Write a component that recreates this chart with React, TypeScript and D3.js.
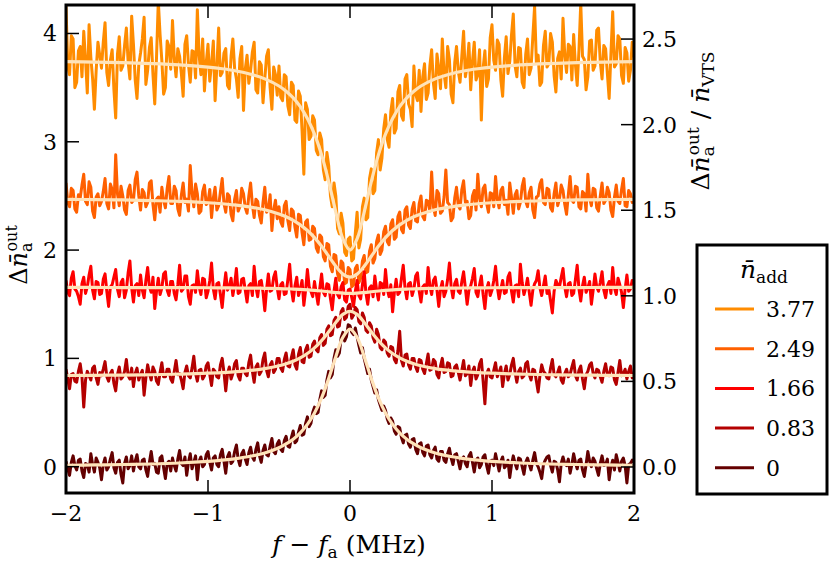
import React from 'react';
import * as d3 from 'd3';

// legend values (n_add) and line colours, top curve first
const nAdd = ['3.77', '2.49', '1.66', '0.83', '0'];
const colors = ['#ff8c00', '#ff6000', '#ff0000', '#b40000', '#640000'];
const fitColor = '#ffe3b9';

// measured frequency grid (MHz), 0.0125 MHz steps, 20 samples per row below
const freq = d3.range(321).map(i => -2 + i * 0.0125);

const fitFreq = [
  -2, -1.8, -1.6, -1.4, -1.2, -1, -0.9, -0.8, -0.7, -0.6, -0.5, -0.45, -0.4, -0.35, -0.3, -0.25, -0.2, -0.15, -0.1, -0.05,
  0, 0.05, 0.1, 0.15, 0.2, 0.25, 0.3, 0.35, 0.4, 0.45, 0.5, 0.6, 0.7, 0.8, 0.9, 1, 1.2, 1.4, 1.6, 1.8, 2,
];

const data377 = [
  4.25, 3.70, 3.62, 3.98, 3.95, 3.50, 3.55, 3.84, 3.88, 3.60, 4.02, 3.76, 3.45, 4.08, 3.78, 3.58, 3.30, 3.66, 3.92, 3.80,
  3.68, 3.92, 4.10, 3.64, 3.52, 3.75, 3.85, 3.48, 3.22, 3.81, 3.97, 3.66, 3.70, 3.89, 4.05, 3.74, 3.58, 4.16, 3.90, 3.57,
  3.40, 3.71, 3.82, 3.95, 4.15, 3.53, 3.66, 3.87, 3.96, 3.62, 3.35, 3.78, 4.30, 3.99, 3.75, 3.44, 3.50, 3.93, 3.88, 3.67,
  4.12, 3.77, 3.60, 3.86, 3.79, 3.63, 3.42, 3.90, 3.98, 3.71, 3.55, 3.84, 3.83, 3.59, 4.22, 3.80, 3.62, 3.95, 3.47, 3.73,
  3.90, 3.56, 3.72, 3.93, 3.38, 3.70, 4.05, 3.61, 3.64, 3.82, 3.86, 3.52, 3.49, 3.79, 3.95, 3.68, 3.58, 3.41, 3.77, 3.88,
  3.29, 3.67, 3.80, 3.54, 3.66, 3.83, 3.92, 3.48, 3.45, 3.74, 3.71, 3.36, 3.58, 3.79, 3.85, 3.50, 3.30, 3.69, 3.62, 3.43,
  3.70, 3.41, 3.38, 3.62, 3.60, 3.33, 3.25, 3.55, 3.52, 3.20, 3.18, 3.47, 3.42, 3.10, 2.70, 3.36, 3.30, 3.02, 3.05, 3.24,
  3.20, 2.92, 2.88, 3.08, 3.02, 2.74, 2.65, 2.90, 2.78, 2.50, 2.40, 2.62, 2.50, 2.20, 2.15, 2.34, 2.25, 1.98, 1.95, 2.10,
  2.12, 1.90, 1.92, 2.16, 2.35, 2.02, 2.10, 2.40, 2.48, 2.28, 2.30, 2.66, 2.75, 2.52, 2.55, 2.90, 3.02, 2.74, 2.85, 3.12,
  3.25, 3.02, 2.95, 3.28, 3.40, 3.08, 3.12, 3.46, 3.52, 3.24, 3.20, 3.58, 3.62, 3.35, 3.30, 3.14, 3.70, 3.44, 3.38, 3.66,
  3.28, 3.60, 3.72, 3.39, 3.45, 3.70, 3.85, 3.54, 3.40, 3.81, 3.68, 3.49, 3.95, 3.63, 3.50, 3.88, 3.76, 3.44, 3.36, 3.73,
  3.88, 3.65, 3.55, 3.79, 4.02, 3.60, 3.70, 3.91, 3.48, 3.74, 3.92, 3.57, 3.62, 3.85, 3.20, 3.68, 3.84, 3.51, 3.58, 3.96,
  4.08, 3.75, 3.66, 3.94, 3.90, 3.57, 3.42, 3.78, 3.97, 3.63, 3.74, 3.99, 4.18, 3.70, 3.60, 3.87, 3.86, 3.55, 3.50, 3.81,
  3.95, 3.62, 3.68, 3.97, 4.25, 3.73, 3.80, 3.52, 3.55, 3.89, 4.02, 3.69, 3.72, 4.00, 3.92, 3.61, 3.46, 3.77, 3.83, 3.58,
  4.14, 3.80, 3.64, 3.90, 3.88, 3.57, 3.99, 3.71, 3.52, 3.85, 4.28, 3.79, 3.76, 3.48, 3.60, 3.93, 3.94, 3.66, 3.70, 4.03,
  4.05, 3.74, 3.58, 3.89, 3.86, 3.63, 3.40, 3.81, 4.20, 3.69, 3.72, 3.98, 3.95, 3.61, 3.54, 3.87, 3.82, 3.56, 3.66, 3.92,
  3.78,
];
const data249 = [
  2.62, 2.44, 2.40, 2.57, 2.55, 2.38, 2.35, 2.51, 2.48, 2.60, 2.70, 2.45, 2.42, 2.63, 2.58, 2.36, 2.30, 2.49, 2.52, 2.41,
  2.45, 2.54, 2.66, 2.43, 2.38, 2.61, 2.56, 2.39, 2.88, 2.52, 2.41, 2.59, 2.50, 2.37, 2.33, 2.55, 2.60, 2.44, 2.46, 2.65,
  2.72, 2.50, 2.37, 2.56, 2.53, 2.40, 2.44, 2.62, 2.64, 2.42, 2.28, 2.47, 2.49, 2.35, 2.58, 2.46, 2.39, 2.57, 2.68, 2.43,
  2.43, 2.59, 2.55, 2.38, 2.32, 2.51, 2.62, 2.44, 2.47, 2.36, 2.78, 2.53, 2.40, 2.61, 2.52, 2.34, 2.36, 2.54, 2.60, 2.42,
  2.44, 2.56, 2.30, 2.48, 2.58, 2.37, 2.41, 2.54, 2.66, 2.43, 2.35, 2.52, 2.50, 2.33, 2.27, 2.47, 2.55, 2.36, 2.40, 2.57,
  2.52, 2.39, 2.34, 2.50, 2.62, 2.42, 2.30, 2.47, 2.45, 2.32, 2.25, 2.44, 2.58, 2.35, 2.38, 2.51, 2.18, 2.37, 2.46, 2.29,
  2.40, 2.26, 2.22, 2.41, 2.45, 2.27, 2.18, 2.38, 2.36, 2.21, 2.12, 2.33, 2.32, 2.16, 2.05, 2.26, 2.28, 2.09, 2.10, 2.22,
  2.20, 2.02, 1.98, 2.14, 2.12, 1.94, 1.90, 2.06, 2.05, 1.85, 1.80, 1.96, 1.95, 1.78, 1.72, 1.90, 1.88, 1.69, 1.70, 1.84,
  1.82, 1.66, 1.68, 1.83, 1.86, 1.70, 1.74, 1.90, 1.95, 1.79, 1.80, 1.99, 2.05, 1.88, 1.92, 2.08, 2.14, 1.96, 2.00, 2.17,
  2.22, 2.08, 2.05, 2.24, 2.28, 2.10, 2.12, 2.31, 2.35, 2.19, 2.16, 2.37, 2.40, 2.23, 2.20, 2.38, 2.44, 2.27, 2.26, 2.43,
  2.50, 2.31, 2.28, 2.46, 2.45, 2.36, 2.72, 2.40, 2.32, 2.55, 2.52, 2.34, 2.36, 2.49, 2.74, 2.44, 2.42, 2.27, 2.30, 2.48,
  2.58, 2.41, 2.38, 2.56, 2.64, 2.44, 2.45, 2.29, 2.32, 2.50, 2.55, 2.37, 2.70, 2.48, 2.40, 2.57, 2.60, 2.43, 2.35, 2.53,
  2.52, 2.40, 2.68, 2.47, 2.39, 2.55, 2.58, 2.42, 2.46, 2.33, 2.62, 2.49, 2.34, 2.51, 2.55, 2.38, 2.44, 2.59, 2.66, 2.45,
  2.40, 2.53, 2.58, 2.37, 2.30, 2.49, 2.50, 2.61, 2.65, 2.44, 2.42, 2.57, 2.56, 2.39, 2.36, 2.52, 2.62, 2.41, 2.47, 2.60,
  2.55, 2.42, 2.33, 2.51, 2.68, 2.46, 2.44, 2.59, 2.58, 2.40, 2.38, 2.54, 2.52, 2.36, 2.70, 2.48, 2.41, 2.57, 2.56, 2.39,
  2.36, 2.50, 2.62, 2.43, 2.46, 2.58, 2.53, 2.37, 2.31, 2.49, 2.60, 2.45, 2.43, 2.56, 2.66, 2.41, 2.40, 2.55, 2.52, 2.44,
  2.48,
];
const data166 = [
  1.72, 1.61, 1.58, 1.74, 1.80, 1.64, 1.62, 1.57, 1.50, 1.69, 1.75, 1.60, 1.66, 1.77, 1.85, 1.63, 1.55, 1.71, 1.70, 1.59,
  1.60, 1.73, 1.78, 1.62, 1.48, 1.66, 1.68, 1.75, 1.82, 1.64, 1.57, 1.70, 1.73, 1.56, 1.63, 1.79, 1.90, 1.65, 1.52, 1.67,
  1.69, 1.58, 1.77, 1.63, 1.56, 1.72, 1.84, 1.66, 1.61, 1.75, 1.46, 1.62, 1.74, 1.59, 1.65, 1.78, 1.80, 1.63, 1.58, 1.71,
  1.71, 1.60, 1.54, 1.68, 1.86, 1.62, 1.64, 1.76, 1.76, 1.57, 1.50, 1.67, 1.68, 1.61, 1.81, 1.66, 1.59, 1.74, 1.73, 1.56,
  1.62, 1.72, 1.88, 1.64, 1.55, 1.69, 1.70, 1.59, 1.47, 1.65, 1.79, 1.63, 1.66, 1.74, 1.58, 1.68, 1.83, 1.60, 1.61, 1.73,
  1.74, 1.63, 1.52, 1.67, 1.69, 1.58, 1.85, 1.66, 1.57, 1.71, 1.72, 1.61, 1.44, 1.64, 1.78, 1.62, 1.63, 1.75, 1.80, 1.65,
  1.55, 1.68, 1.70, 1.59, 1.60, 1.73, 1.87, 1.64, 1.53, 1.67, 1.75, 1.58, 1.64, 1.72, 1.49, 1.63, 1.82, 1.66, 1.62, 1.57,
  1.71, 1.60, 1.50, 1.65, 1.78, 1.61, 1.58, 1.69, 1.68, 1.55, 1.45, 1.62, 1.74, 1.59, 1.56, 1.66, 1.70, 1.54, 1.52, 1.63,
  1.64, 1.56, 1.48, 1.62, 1.72, 1.58, 1.55, 1.68, 1.80, 1.60, 1.50, 1.65, 1.67, 1.57, 1.76, 1.63, 1.54, 1.70, 1.69, 1.59,
  1.82, 1.64, 1.57, 1.68, 1.43, 1.61, 1.73, 1.59, 1.61, 1.74, 1.86, 1.65, 1.55, 1.69, 1.70, 1.58, 1.64, 1.76, 1.79, 1.62,
  1.52, 1.66, 1.68, 1.60, 1.84, 1.67, 1.59, 1.72, 1.75, 1.63, 1.48, 1.64, 1.71, 1.57, 1.62, 1.73, 1.88, 1.66, 1.56, 1.69,
  1.73, 1.62, 1.60, 1.71, 1.80, 1.65, 1.50, 1.63, 1.67, 1.74, 1.83, 1.61, 1.57, 1.68, 1.76, 1.59, 1.46, 1.64, 1.70, 1.58,
  1.63, 1.72, 1.85, 1.66, 1.55, 1.64, 1.72, 1.60, 1.61, 1.75, 1.79, 1.62, 1.52, 1.67, 1.68, 1.57, 1.87, 1.70, 1.59, 1.65,
  1.74, 1.61, 1.49, 1.63, 1.69, 1.72, 1.81, 1.65, 1.58, 1.67, 1.76, 1.60, 1.64, 1.53, 1.42, 1.62, 1.72, 1.68, 1.66, 1.75,
  1.83, 1.66, 1.57, 1.69, 1.70, 1.58, 1.60, 1.73, 1.86, 1.64, 1.53, 1.67, 1.75, 1.61, 1.65, 1.71, 1.50, 1.63, 1.78, 1.66,
  1.62, 1.70, 1.80, 1.63, 1.56, 1.67, 1.71, 1.60, 1.84, 1.65, 1.59, 1.74, 1.68, 1.61, 1.47, 1.64, 1.77, 1.62, 1.64, 1.72,
  1.70,
];
const data083 = [
  0.90, 0.81, 0.72, 0.85, 0.86, 0.79, 0.78, 0.88, 0.95, 0.83, 0.55, 0.80, 0.88, 0.84, 0.80, 0.91, 0.93, 0.82, 0.76, 0.87,
  0.84, 0.90, 0.97, 0.83, 0.79, 0.86, 0.89, 0.77, 0.70, 0.85, 0.92, 0.81, 0.83, 0.88, 0.99, 0.84, 0.81, 0.91, 0.74, 0.86,
  0.91, 0.80, 0.85, 0.89, 0.66, 0.82, 0.94, 0.86, 0.80, 0.92, 0.88, 0.79, 0.76, 0.87, 0.96, 0.83, 0.83, 0.90, 0.90, 0.81,
  0.78, 0.88, 0.98, 0.85, 0.86, 0.80, 0.72, 0.87, 0.93, 0.84, 0.82, 0.91, 1.02, 0.86, 0.79, 0.89, 0.90, 0.81, 0.84, 0.93,
  0.96, 0.85, 0.75, 0.90, 0.88, 0.83, 0.82, 0.94, 1.00, 0.87, 0.70, 0.86, 0.92, 0.81, 0.86, 0.95, 0.98, 0.84, 0.80, 0.91,
  0.91, 0.86, 0.84, 0.96, 1.03, 0.88, 0.78, 0.92, 0.95, 0.85, 0.88, 0.99, 1.05, 0.89, 0.83, 0.94, 0.97, 0.87, 0.90, 1.00,
  1.00, 0.91, 0.88, 0.99, 1.05, 0.93, 0.92, 1.01, 1.08, 0.94, 0.90, 1.04, 1.10, 0.97, 0.96, 1.08, 1.12, 1.01, 1.02, 1.13,
  1.16, 1.08, 1.06, 1.19, 1.22, 1.12, 1.14, 1.27, 1.30, 1.21, 1.22, 1.35, 1.38, 1.29, 1.30, 1.43, 1.46, 1.36, 1.38, 1.48,
  1.50, 1.37, 1.40, 1.47, 1.45, 1.34, 1.32, 1.42, 1.38, 1.26, 1.24, 1.33, 1.30, 1.19, 1.15, 1.27, 1.22, 1.10, 1.08, 1.17,
  1.15, 1.05, 1.02, 1.11, 1.10, 0.99, 0.96, 1.07, 1.25, 0.98, 0.93, 1.03, 1.04, 0.94, 0.90, 1.00, 1.00, 0.92, 0.88, 0.99,
  0.98, 0.90, 0.86, 0.95, 1.04, 0.89, 0.90, 0.99, 0.97, 0.85, 0.82, 0.93, 1.00, 0.87, 0.88, 0.96, 0.95, 0.83, 0.84, 0.92,
  0.94, 0.87, 0.80, 0.89, 0.98, 0.84, 0.86, 0.93, 0.75, 0.88, 0.92, 0.81, 0.85, 0.95, 0.99, 0.79, 0.58, 0.86, 0.90, 0.83,
  0.82, 0.89, 0.96, 0.83, 0.87, 0.92, 0.74, 0.86, 0.93, 0.80, 0.85, 0.94, 1.00, 0.87, 0.78, 0.88, 0.91, 0.82, 0.84, 0.95,
  0.97, 0.85, 0.80, 0.90, 0.89, 0.79, 0.69, 0.84, 0.94, 0.88, 0.86, 0.82, 0.81, 0.91, 0.99, 0.85, 0.83, 0.87, 0.92, 0.80,
  0.77, 0.86, 0.90, 0.83, 0.85, 0.92, 0.98, 0.84, 0.80, 0.89, 0.93, 0.81, 0.72, 0.85, 0.88, 0.94, 0.96, 0.86, 0.82, 0.90,
  0.89, 0.83, 0.78, 0.88, 0.95, 0.85, 0.84, 0.92, 0.91, 0.80, 0.76, 0.87, 0.98, 0.84, 0.86, 0.90, 0.81, 0.88, 0.93, 0.82,
  0.85,
];
const data0 = [
  0.05, -0.02, -0.08, 0.04, 0.10, 0.01, -0.03, 0.06, 0.07, -0.04, -0.10, 0.03, 0.02, -0.05, 0.12, 0.02, -0.05, 0.08, 0.04, -0.01,
  -0.12, 0.02, 0.08, -0.03, 0.00, 0.07, 0.13, -0.01, -0.06, 0.04, 0.06, -0.07, -0.15, 0.03, 0.09, -0.02, 0.01, 0.10, -0.04, 0.05,
  0.11, 0.00, -0.02, 0.06, 0.07, -0.03, -0.09, 0.04, 0.14, 0.02, 0.03, -0.05, -0.06, 0.08, 0.10, -0.01, -0.11, 0.03, 0.05, -0.04,
  0.08, 0.01, -0.04, 0.07, 0.15, 0.03, 0.01, 0.09, -0.08, 0.04, 0.12, -0.02, 0.04, 0.10, -0.12, 0.05, 0.09, 0.00, 0.02, 0.11,
  0.14, 0.04, -0.03, 0.08, 0.10, 0.02, 0.00, 0.11, 0.16, 0.05, -0.06, 0.09, 0.13, 0.03, 0.05, 0.14, 0.20, 0.07, 0.01, 0.12,
  0.15, 0.07, 0.02, 0.13, 0.18, 0.09, 0.06, 0.16, 0.22, 0.10, 0.04, 0.15, 0.20, 0.11, 0.10, 0.19, 0.26, 0.14, 0.12, 0.21,
  0.24, 0.16, 0.14, 0.24, 0.28, 0.19, 0.18, 0.27, 0.33, 0.22, 0.24, 0.32, 0.38, 0.29, 0.30, 0.40, 0.46, 0.37, 0.40, 0.50,
  0.55, 0.49, 0.50, 0.62, 0.70, 0.64, 0.66, 0.80, 0.88, 0.82, 0.85, 1.00, 1.08, 1.02, 1.05, 1.19, 1.24, 1.16, 1.20, 1.31,
  1.30, 1.24, 1.22, 1.28, 1.20, 1.12, 1.05, 1.10, 1.00, 0.93, 0.86, 0.90, 0.80, 0.74, 0.68, 0.71, 0.62, 0.57, 0.52, 0.56,
  0.52, 0.44, 0.40, 0.45, 0.42, 0.33, 0.30, 0.37, 0.36, 0.27, 0.22, 0.29, 0.30, 0.21, 0.18, 0.25, 0.26, 0.16, 0.12, 0.21,
  0.22, 0.13, 0.10, 0.19, 0.20, 0.11, 0.08, 0.15, 0.18, 0.07, 0.05, 0.14, 0.14, 0.06, 0.04, 0.12, 0.17, 0.08, 0.02, 0.11,
  0.12, 0.05, -0.02, 0.07, 0.09, 0.03, 0.00, 0.10, 0.13, 0.04, -0.05, 0.06, 0.08, -0.01, 0.02, 0.09, 0.11, 0.01, -0.06, 0.05,
  0.06, 0.01, 0.12, 0.04, -0.04, 0.05, 0.09, -0.01, 0.01, 0.06, -0.10, 0.02, 0.10, 0.03, -0.02, 0.08, 0.07, 0.00, -0.07, 0.04,
  0.08, 0.02, -0.03, 0.06, 0.13, 0.03, 0.00, -0.05, -0.11, 0.02, 0.06, 0.09, 0.10, 0.01, -0.05, 0.05, 0.04, -0.03, -0.14, 0.03,
  0.09, 0.03, 0.01, 0.07, -0.06, 0.02, 0.12, 0.04, -0.02, 0.06, 0.07, -0.03, -0.09, 0.02, 0.14, 0.05, 0.00, 0.08, 0.05, -0.02,
  -0.08, 0.03, 0.10, 0.01, 0.02, 0.07, -0.12, 0.00, 0.06, -0.03, 0.11, 0.04, -0.04, 0.05, 0.08, 0.01, -0.15, 0.02, 0.03, 0.06,
  0.04,
];

// fitted Lorentzians, read at fitFreq
const fit377 = [
  3.740, 3.736, 3.730, 3.722, 3.710, 3.689, 3.674, 3.654, 3.624, 3.581, 3.515, 3.467, 3.406, 3.325, 3.216, 3.071, 2.879, 2.633, 2.351, 2.103,
  2.000, 2.103, 2.351, 2.633, 2.879, 3.071, 3.216, 3.325, 3.406, 3.467, 3.515, 3.581, 3.624, 3.654, 3.674, 3.689, 3.710, 3.722, 3.730, 3.736, 3.740,
];
const fit249 = [
  2.469, 2.466, 2.463, 2.457, 2.450, 2.437, 2.428, 2.415, 2.397, 2.372, 2.334, 2.308, 2.275, 2.233, 2.181, 2.115, 2.035, 1.943, 1.851, 1.778,
  1.750, 1.778, 1.851, 1.943, 2.035, 2.115, 2.181, 2.233, 2.275, 2.308, 2.334, 2.372, 2.397, 2.415, 2.428, 2.437, 2.450, 2.457, 2.463, 2.466, 2.469,
];
const fit166 = [
  1.655, 1.655, 1.654, 1.654, 1.653, 1.652, 1.651, 1.650, 1.649, 1.647, 1.644, 1.642, 1.640, 1.637, 1.633, 1.628, 1.622, 1.615, 1.608, 1.602,
  1.600, 1.602, 1.608, 1.615, 1.622, 1.628, 1.633, 1.637, 1.640, 1.642, 1.644, 1.647, 1.649, 1.650, 1.651, 1.652, 1.653, 1.654, 1.654, 1.655, 1.655,
];
const fit083 = [
  0.842, 0.844, 0.846, 0.849, 0.855, 0.863, 0.869, 0.877, 0.889, 0.906, 0.932, 0.951, 0.974, 1.005, 1.045, 1.097, 1.164, 1.245, 1.332, 1.406,
  1.435, 1.406, 1.332, 1.245, 1.164, 1.097, 1.045, 1.005, 0.974, 0.951, 0.932, 0.906, 0.889, 0.877, 0.869, 0.863, 0.855, 0.849, 0.846, 0.844, 0.842,
];
const fit0 = [
  0.013, 0.016, 0.020, 0.025, 0.034, 0.049, 0.060, 0.075, 0.096, 0.127, 0.175, 0.210, 0.254, 0.313, 0.391, 0.496, 0.635, 0.813, 1.016, 1.195,
  1.270, 1.195, 1.016, 0.813, 0.635, 0.496, 0.391, 0.313, 0.254, 0.210, 0.175, 0.127, 0.096, 0.075, 0.060, 0.049, 0.034, 0.025, 0.020, 0.016, 0.013,
];

const leftTicks = [0, 1, 2, 3, 4];
const rightTicks = [0, 0.5, 1, 1.5, 2, 2.5];
const xTicks = [-2, -1, 0, 1, 2];

const allData = [data377, data249, data166, data083, data0];
const allFits = [fit377, fit249, fit166, fit083, fit0];

const FONT = 'DejaVu Serif';

export default function App() {
  const W = 830, H = 564;
  const left = 66, right = 634, top = 5, bottom = 493;
  const tickLen = 13;

  const x = d3.scaleLinear().domain([-2, 2]).range([left, right]);
  const y = d3.scaleLinear().domain([-0.243, 4.263]).range([bottom, top]);
  const yR = d3.scaleLinear().domain([-0.152, 2.699]).range([bottom, top]);

  const dataLine = d3.line<number>().x((_, i) => x(freq[i])).y(d => y(d));
  const fitLine = d3.line<number>().x((_, i) => x(fitFreq[i])).y(d => y(d)).curve(d3.curveCatmullRom);

  const minus = (v: number) => (v < 0 ? '\u2212' + Math.abs(v) : String(v));

  const legX = 697, legY = 245;

  return (
    <svg width={W} height={H} style={{ position: 'absolute', left: 0, top: 0 }} fontFamily={FONT}>
      <defs>
        <clipPath id="plotclip">
          <rect x={left} y={top} width={right - left} height={bottom - top} />
        </clipPath>
      </defs>
      <rect width={W} height={H} fill="#fff" />

      <g clipPath="url(#plotclip)" fill="none" strokeLinejoin="round">
        {allData.map((d, k) => (
          <path key={'d' + k} d={dataLine(d) || ''} stroke={colors[k]} strokeWidth={3} />
        ))}
        {allFits.map((f, k) => (
          <path key={'f' + k} d={fitLine(f) || ''} stroke={fitColor} strokeWidth={3.2} strokeLinecap="round" />
        ))}
      </g>

      {/* ticks */}
      <g stroke="#000" strokeWidth={1.5}>
        {xTicks.map(t => (
          <g key={'x' + t}>
            <line x1={x(t)} x2={x(t)} y1={bottom} y2={bottom - tickLen} />
            <line x1={x(t)} x2={x(t)} y1={top} y2={top + tickLen} />
          </g>
        ))}
        {leftTicks.map(t => (
          <line key={'l' + t} x1={left} x2={left + tickLen} y1={y(t)} y2={y(t)} />
        ))}
        {rightTicks.map(t => (
          <line key={'r' + t} x1={right} x2={right - tickLen} y1={yR(t)} y2={yR(t)} />
        ))}
      </g>
      <rect x={left} y={top} width={right - left} height={bottom - top} fill="none" stroke="#000" strokeWidth={3} />

      {/* tick labels */}
      <g fontSize={22} fill="#000" fontFamily={FONT}>
        {xTicks.map(t => (
          <text key={'xl' + t} x={x(t)} y={521} textAnchor="middle">{minus(t)}</text>
        ))}
        {leftTicks.map(t => (
          <text key={'ll' + t} x={57} y={y(t) + 8} textAnchor="end">{t}</text>
        ))}
        {rightTicks.map(t => (
          <text key={'rl' + t} x={642} y={yR(t) + 8}>{t.toFixed(1)}</text>
        ))}
      </g>

      {/* x label */}
      <text x={349} y={553} textAnchor="middle" fontSize={25} fontFamily={FONT}>
        <tspan fontStyle="italic">f</tspan>
        <tspan>{' \u2212 '}</tspan>
        <tspan fontStyle="italic">f</tspan>
        <tspan fontSize={17} dy={5}>a</tspan>
        <tspan dy={-5}>{' (MHz)'}</tspan>
      </text>

      {/* left y label */}
      <text transform="translate(27,255) rotate(-90)" textAnchor="middle" fontSize={24} fontFamily={FONT}>
        <tspan>Δ</tspan>
        <tspan fontStyle="italic">n&#772;</tspan>
        <tspan fontSize={16} dy={5}>a</tspan>
        <tspan fontSize={16} dx={-9} dy={-15}>out</tspan>
      </text>

      {/* right y label */}
      <text transform="translate(709,121) rotate(-90)" textAnchor="middle" fontSize={25} fontFamily={FONT}>
        <tspan>Δ</tspan>
        <tspan fontStyle="italic">n&#772;</tspan>
        <tspan fontSize={17} dy={5}>a</tspan>
        <tspan fontSize={17} dx={-9} dy={-15}>out</tspan>
        <tspan dy={10}>{' / '}</tspan>
        <tspan fontStyle="italic">n&#772;</tspan>
        <tspan fontSize={17} dy={5}>VTS</tspan>
      </text>

      {/* legend */}
      <rect x={legX} y={legY} width={130} height={249} fill="#fff" stroke="#000" strokeWidth={3} />
      <text x={764} y={278} textAnchor="middle" fontSize={25} fontFamily={FONT}>
        <tspan fontStyle="italic">n&#772;</tspan>
        <tspan fontSize={17} dy={5}>add</tspan>
      </text>
      {nAdd.map((lab, k) => {
        const ly = 309 + k * 39.7;
        return (
          <g key={lab}>
            <line x1={715} x2={754} y1={ly} y2={ly} stroke={colors[k]} strokeWidth={3} />
            <text x={766} y={ly + 8} fontSize={22} fontFamily={FONT}>{lab}</text>
          </g>
        );
      })}
    </svg>
  );
}
